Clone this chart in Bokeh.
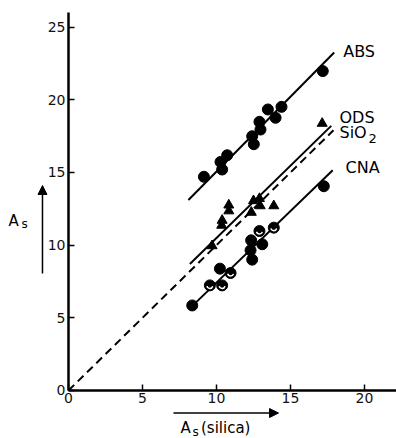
from bokeh.plotting import figure
from bokeh.models import Range1d, Label, Arrow, NormalHead, FixedTicker
from bokeh.embed import file_html
from bokeh.resources import INLINE

# ---- data ----
abs_x = [9.15, 10.27, 10.38, 10.72, 12.41, 12.52, 12.9, 12.97, 13.47, 13.99, 14.39, 17.18]
abs_y = [14.7, 15.72, 15.2, 16.18, 17.49, 16.94, 18.48, 17.95, 19.33, 18.76, 19.51, 21.97]

ods_x = [9.7, 10.35, 10.38, 10.83, 10.83, 12.35, 12.5, 12.9, 12.95, 13.87, 17.14]
ods_y = [9.95, 11.36, 11.7, 12.35, 12.75, 12.25, 13.05, 13.2, 12.7, 12.7, 18.37]

cna_x = [8.36, 9.55, 10.38, 10.23, 10.95, 12.34, 12.3, 12.41, 13.09, 12.9, 13.87, 17.25]
cna_y = [5.85, 7.23, 7.23, 8.38, 8.08, 10.33, 9.64, 9.0, 10.06, 10.97, 11.2, 14.05]
cna_open = [0, 1, 1, 0, 1, 0, 0, 0, 0, 1, 1, 0]

abs_line_x = [8.1, 17.95]
abs_line_y = [13.1, 23.25]
ods_line_x = [8.2, 17.75]
ods_line_y = [8.7, 18.2]
cna_line_x = [8.3, 17.85]
cna_line_y = [5.75, 15.15]
silica_line_x = [0.0, 17.9]
silica_line_y = [0.0, 17.9]

x_ticks = [0, 5, 10, 15, 20]
y_ticks = [0, 5, 10, 15, 20, 25]
x_axis_end = 22.16
y_axis_end = 26.0

FONT = "DejaVu Sans"

p = figure(width=396, height=438, output_backend="svg", toolbar_location=None,
           x_range=Range1d(-4.594, x_axis_end), y_range=Range1d(-3.302, 26.825),
           min_border_left=0, min_border_right=0, min_border_top=0, min_border_bottom=0)
p.outline_line_color = None
p.grid.visible = False
p.background_fill_color = "white"
p.border_fill_color = "white"

p.xaxis.fixed_location = 0
p.yaxis.fixed_location = 0
p.xaxis.bounds = (0, x_axis_end)
p.yaxis.bounds = (0, y_axis_end)

for ax, ticks in ((p.xaxis[0], x_ticks), (p.yaxis[0], y_ticks)):
    ax.ticker = FixedTicker(ticks=ticks)
    ax.axis_line_width = 2.5
    ax.axis_line_color = "black"
    ax.major_tick_in = 6
    ax.major_tick_out = 0
    ax.major_tick_line_width = 1.5
    ax.minor_tick_line_color = None
    ax.major_label_text_font = FONT
    ax.major_label_text_font_size = "14px"
    ax.major_label_text_color = "#111111"
    ax.major_label_standoff = 3

# lines
p.line(silica_line_x, silica_line_y, line_color="black", line_width=2, line_dash="8 5")
p.line(abs_line_x, abs_line_y, line_color="black", line_width=2)
p.line(ods_line_x, ods_line_y, line_color="black", line_width=2)
p.line(cna_line_x, cna_line_y, line_color="black", line_width=2)

# points
p.scatter(abs_x, abs_y, marker="circle", size=11, fill_color="black", line_color="black")
p.scatter(ods_x, ods_y, marker="triangle", size=10, fill_color="black", line_color="black")
p.scatter(cna_x, cna_y, marker="circle", size=11, fill_color="black", line_color="black")
ox = [x for x, o in zip(cna_x, cna_open) if o]
oy = [y for y, o in zip(cna_y, cna_open) if o]
p.arc(ox, oy, radius=3, radius_units="screen", start_angle=3.4, end_angle=6.0,
      line_color="white", line_width=1.5)

# series labels
def lab(x, y, t, size="16px"):
    p.add_layout(Label(x=x, y=y, text=t, text_font=FONT, text_font_size=size,
                       text_color="black", text_baseline="alphabetic", text_align="left"))

lab(18.56, 23.35, "ABS")
lab(18.31, 18.8, "ODS")
lab(18.31, 17.77, "SiO")
lab(20.27, 17.3, "2", "13px")
lab(18.72, 15.36, "CNA")

# axis titles with arrows
lab(7.57, -2.6, "A", "15px")
lab(8.38, -2.84, "s", "12px")
lab(8.95, -2.6, "(silica)", "15px")
p.add_layout(Arrow(x_start=7.09, y_start=-1.55, x_end=14.19, y_end=-1.55,
                   line_width=1.5, line_color="black",
                   end=NormalHead(size=9, fill_color="black", line_color="black")))

lab(-4.05, 11.69, "A", "15px")
lab(-3.18, 11.42, "s", "12px")
p.add_layout(Arrow(x_start=-1.757, y_start=8.05, x_end=-1.757, y_end=14.1,
                   line_width=1.5, line_color="black",
                   end=NormalHead(size=9, fill_color="black", line_color="black")))

open("out.html", "w").write(file_html(p, INLINE))
